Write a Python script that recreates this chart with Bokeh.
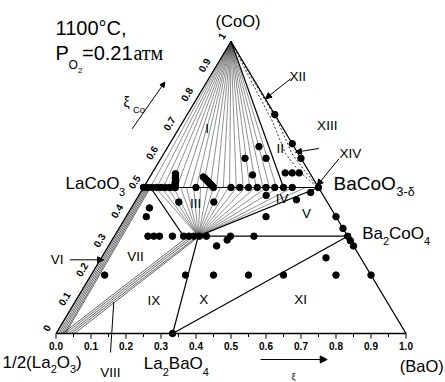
import numpy as np
from bokeh.plotting import figure
from bokeh.models import Arrow, NormalHead, Range1d
from bokeh.core.properties import value
from bokeh.embed import file_html
from bokeh.resources import INLINE

FONT = "Liberation Sans"

# ---------------- data: mole fractions (BaO, CoO); 1/2 La2O3 = 1 - BaO - CoO ----------------
tick_values = [0.0, 0.1, 0.2, 0.3, 0.4, 0.5, 0.6, 0.7, 0.8, 0.9, 1.0]
minor_ticks = [0.05, 0.15, 0.25, 0.35, 0.45, 0.55, 0.65, 0.75, 0.85, 0.95]
bottom_tick_labels = ["0.0", "0.1", "0.2", "0.3", "0.4", "0.5", "0.6", "0.7", "0.8", "0.9", "1.0"]
left_tick_labels = ["0", "0.1", "0.2", "0.3", "0.4", "0.5", "0.6", "0.7", "0.8", "0.9", "1"]

apex = (0.0, 1.0)
LaCoO3 = (0.0, 0.5)
BaCoO3 = (0.5, 0.5)
Ba2CoO4 = (2 / 3, 1 / 3)
La2BaO4 = (1 / 3, 0.0)
fan_pt = (0.24, 1 / 3)
bound3_top = (0.02, 0.5)
bound3_bot = (0.198, 1 / 3)
region1_limit = (0.40, 0.5)

# region I tie lines: CoO -> La1-xBaxCoO3 (BaO fraction on the CoO=0.5 line)
region1_end_ba = [0.0, 0.019, 0.038, 0.056, 0.075, 0.095, 0.114, 0.133, 0.151, 0.17, 0.19,
                  0.209, 0.228, 0.246, 0.265, 0.285, 0.304, 0.322, 0.341, 0.36, 0.38]
# regions III / IV tie lines: fan point -> CoO=0.5 line
region3_end_ba = [0.034, 0.051, 0.069, 0.086, 0.106, 0.123, 0.143, 0.163, 0.183, 0.2, 0.22,
                  0.243, 0.266, 0.291, 0.32, 0.351, 0.386, 0.426, 0.463]
# region VI band (CoO=0.5 -> CoO=0)
band6_top_ba = [0.0, 0.004, 0.008, 0.012, 0.016, 0.02]
band6_bot_ba = [0.003, 0.008, 0.013, 0.018, 0.023, 0.027]
# region VIII band (CoO=1/3 -> CoO=0)
band8_top_ba = [0.212, 0.221, 0.229, 0.238, 0.243]
band8_bot_ba = [0.019, 0.027, 0.036, 0.044, 0.053]
# dashed boundaries near the BaO-CoO side
dash_in_ba = [0.0, 0.124, 0.253, 0.348, 0.414, 0.462, 0.5]
dash_in_co = [1.0, 0.866, 0.729, 0.616, 0.558, 0.524, 0.5]
dash_out_ba = [0.0, 0.131, 0.268, 0.366, 0.431, 0.471, 0.5]
dash_out_co = [1.0, 0.866, 0.729, 0.616, 0.558, 0.524, 0.5]

# experimental samples
dots_ba = ([0.0, 0.0125, 0.025, 0.0375, 0.05, 0.0625, 0.075, 0.0875, 0.15, 0.25, 0.275, 0.30,
            0.325, 0.35, 0.375, 0.40, 0.425, 0.5]
           + [0.091, 0.087, 0.084, 0.081, 0.078, 0.074, 0.071, 0.068]
           + [0.153, 0.159, 0.165, 0.171, 0.176, 0.182, 0.188, 0.194, 0.2]
           + [0.25, 0.35, 0.40, 0.60, 0.64, 0.667, 0.682, 0.70, 0.80]
           + [0.26, 0.24, 0.30, 0.29, 0.38, 0.40, 0.42, 0.486, 0.458, 0.364, 0.226, 0.126, 0.40,
              0.052, 0.058]
           + [0.096, 0.113, 0.129, 0.166, 0.198, 0.213, 0.227, 0.243, 0.263, 0.332, 0.399]
           + [0.309, 0.329, 0.039, 0.27, 0.35, 0.45, 0.55, 0.642, 0.70, 0.333])
dots_co = ([0.5] * 18
           + [0.5, 0.507, 0.514, 0.52, 0.527, 0.534, 0.541, 0.547]
           + [0.536, 0.532, 0.527, 0.523, 0.519, 0.514, 0.510, 0.505, 0.5]
           + [0.75, 0.65, 0.60, 0.40, 0.36, 0.333, 0.318, 0.30, 0.20]
           + [0.64, 0.60, 0.60, 0.543, 0.55, 0.55, 0.55, 0.483, 0.458, 0.473, 0.45, 0.45, 0.40,
              0.43, 0.40]
           + [1 / 3] * 11
           + [0.30, 0.32, 0.2, 0.2, 0.2, 0.2, 0.2, 0.259, 0.2, 0.0])


def T(ba, co):
    ba = np.asarray(ba, dtype=float)
    co = np.asarray(co, dtype=float)
    return ba + co / 2.0, co


p = figure(width=445, height=382, x_range=Range1d(-0.15857, 1.11286), y_range=Range1d(-0.16781, 1.14041),
           output_backend="svg", toolbar_location=None, x_axis_type=None, y_axis_type=None, min_border=0)
p.outline_line_color = None
p.background_fill_color = "white"
p.border_fill_color = "white"

thin = dict(line_color="#444444", line_width=0.6)
bold = dict(line_color="black", line_width=1.2)


def seg(a_ba, a_co, b_ba, b_co, **kw):
    x0, y0 = T(a_ba, a_co)
    x1, y1 = T(b_ba, b_co)
    p.segment(x0=np.atleast_1d(x0), y0=np.atleast_1d(y0), x1=np.atleast_1d(x1), y1=np.atleast_1d(y1), **kw)


# region I fan
n1 = len(region1_end_ba)
seg([apex[0]] * n1, [apex[1]] * n1, region1_end_ba, [0.5] * n1, **thin)
# region III/IV fan
n3 = len(region3_end_ba)
seg([fan_pt[0]] * n3, [fan_pt[1]] * n3, region3_end_ba, [0.5] * n3, **thin)
# bands VI and VIII
seg(band6_top_ba, [0.5] * len(band6_top_ba), band6_bot_ba, [0.0] * len(band6_bot_ba),
    line_color="#222222", line_width=0.7)
seg(band8_top_ba, [1 / 3] * len(band8_top_ba), band8_bot_ba, [0.0] * len(band8_bot_ba),
    line_color="#222222", line_width=0.7)

# dashed boundaries
for bb, cc in ((dash_in_ba, dash_in_co), (dash_out_ba, dash_out_co)):
    x, y = T(bb, cc)
    p.line(x, y, line_color="black", line_width=0.8, line_dash="2 2")

# phase boundaries
seg(LaCoO3[0], LaCoO3[1], BaCoO3[0], BaCoO3[1], **bold)
seg(bound3_bot[0], bound3_bot[1], Ba2CoO4[0], Ba2CoO4[1], **bold)
seg(apex[0], apex[1], region1_limit[0], region1_limit[1], **bold)
seg(fan_pt[0], fan_pt[1], BaCoO3[0], BaCoO3[1], **bold)
seg(fan_pt[0], fan_pt[1], La2BaO4[0], La2BaO4[1], **bold)
seg(La2BaO4[0], La2BaO4[1], Ba2CoO4[0], Ba2CoO4[1], **bold)
seg(bound3_top[0], bound3_top[1], bound3_bot[0], bound3_bot[1], **bold)

# triangle
tx, ty = T([0, 1, 0, 0], [0, 0, 1, 0])
p.line(tx, ty, line_color="black", line_width=1.3)

# bottom ticks
p.segment(x0=tick_values, y0=[0] * 11, x1=tick_values, y1=[-0.018] * 11, line_color="black", line_width=1)
p.segment(x0=minor_ticks, y0=[0] * 10, x1=minor_ticks, y1=[-0.012] * 10, line_color="black", line_width=1)
p.text(x=tick_values, y=[-0.0445] * 11, text=bottom_tick_labels, text_font=value(FONT),
       text_font_size="10px", text_font_style="bold", text_align="center", text_baseline="middle")
# left (CoO) tick labels along the La2O3-CoO side
lx, ly = T([0.0] * 11, tick_values)
p.text(x=list(lx - 0.0269), y=list(ly + 0.0195), text=left_tick_labels, text_font=value(FONT),
       text_font_size="10px", text_font_style="bold", text_align="center", text_baseline="middle",
       angle=1.0308)

# samples
dx, dy = T(dots_ba, dots_co)
p.scatter(dx, dy, size=6.5, color="black")


def txt(x, y, s, size, align="left", baseline="middle", font=FONT, angle=0.0):
    p.text(x=[x], y=[y], text=[s], text_font=value(font), text_font_size=f"{size}px",
           text_align=align, text_baseline=baseline, angle=angle, text_color="black")


# header
txt(-0.0014, 1.0462, "1100°C,", 20)
txt(-0.0014, 0.9606, "P", 20)
txt(0.0357, 0.9212, "O", 12)
txt(0.0629, 0.9007, "2", 8)
txt(0.0743, 0.9606, "=0.21", 20)
txt(0.2214, 0.9606, "атм", 20, font="Liberation Serif")

# compounds
txt(0.52, 1.0702, "(CoO)", 16.5, align="center")
txt(0.0271, 0.5154, "LaCoO", 17)
txt(0.180, 0.4829, "3", 11)
txt(0.7929, 0.5127, "BaCoO", 19)
txt(0.9729, 0.4829, "3-δ", 12.5)
txt(0.8749, 0.3435, "Ba", 17)
txt(0.9343, 0.3168, "2", 11)
txt(0.9517, 0.3435, "CoO", 17)
txt(1.0517, 0.3168, "4", 11)
txt(0.2509, -0.1021, "La", 17)
txt(0.3049, -0.1318, "2", 11)
txt(0.3223, -0.1021, "BaO", 17)
txt(0.4194, -0.1318, "4", 11)
txt(-0.1529, -0.101, "1/2(La", 17)
txt(-0.0151, -0.1216, "2", 11)
txt(0.0023, -0.101, "O", 17)
txt(0.0400, -0.1216, "3", 11)
txt(0.0574, -0.101, ")", 17)
txt(0.9823, -0.1096, "(BaO)", 16.5)

# axis titles
txt(0.1929, 0.7945, "ξ", 14)
txt(0.2200, 0.7688, "Co", 9.5)
txt(0.6786, -0.1497, "ξ", 9, align="center")

# region labels
regions = [("I", 0.432, 0.701), ("II", 0.641, 0.632), ("III", 0.3986, 0.444), ("IV", 0.646, 0.461),
           ("V", 0.716, 0.41), ("VI", 0.0034, 0.2524), ("VII", 0.227, 0.2637), ("VIII", 0.1557, -0.1336),
           ("IX", 0.2794, 0.113), ("X", 0.4223, 0.1154), ("XI", 0.6986, 0.1154), ("XII", 0.691, 0.88),
           ("XIII", 0.775, 0.712), ("XIV", 0.841, 0.615)]
p.text(x=[r[1] for r in regions], y=[r[2] for r in regions], text=[r[0] for r in regions],
       text_font=value(FONT), text_font_size="13.5px", text_align="center", text_baseline="middle")


def arrow(x0, y0, x1, y1, size=6):
    p.add_layout(Arrow(end=NormalHead(size=size, fill_color="black", line_color="black"),
                       x_start=x0, y_start=y0, x_end=x1, y_end=y1, line_width=1, line_color="black"))


arrow(0.67, 0.872, 0.5986, 0.804)      # XII
arrow(0.7509, 0.6336, 0.6843, 0.6209)  # XIII
arrow(0.808, 0.598, 0.7463, 0.5068)    # XIV
arrow(0.0397, 0.2524, 0.136, 0.2524)   # VI
arrow(0.2177, 0.701, 0.3109, 0.861, size=5)   # xi_Co
arrow(0.5843, -0.089, 0.7749, -0.089, size=7)  # xi
p.line([0.1651, 0.1557], [0.1072, -0.0651], line_color="black", line_width=1)  # VIII pointer

open("out.html", "w").write(file_html(p, INLINE))
